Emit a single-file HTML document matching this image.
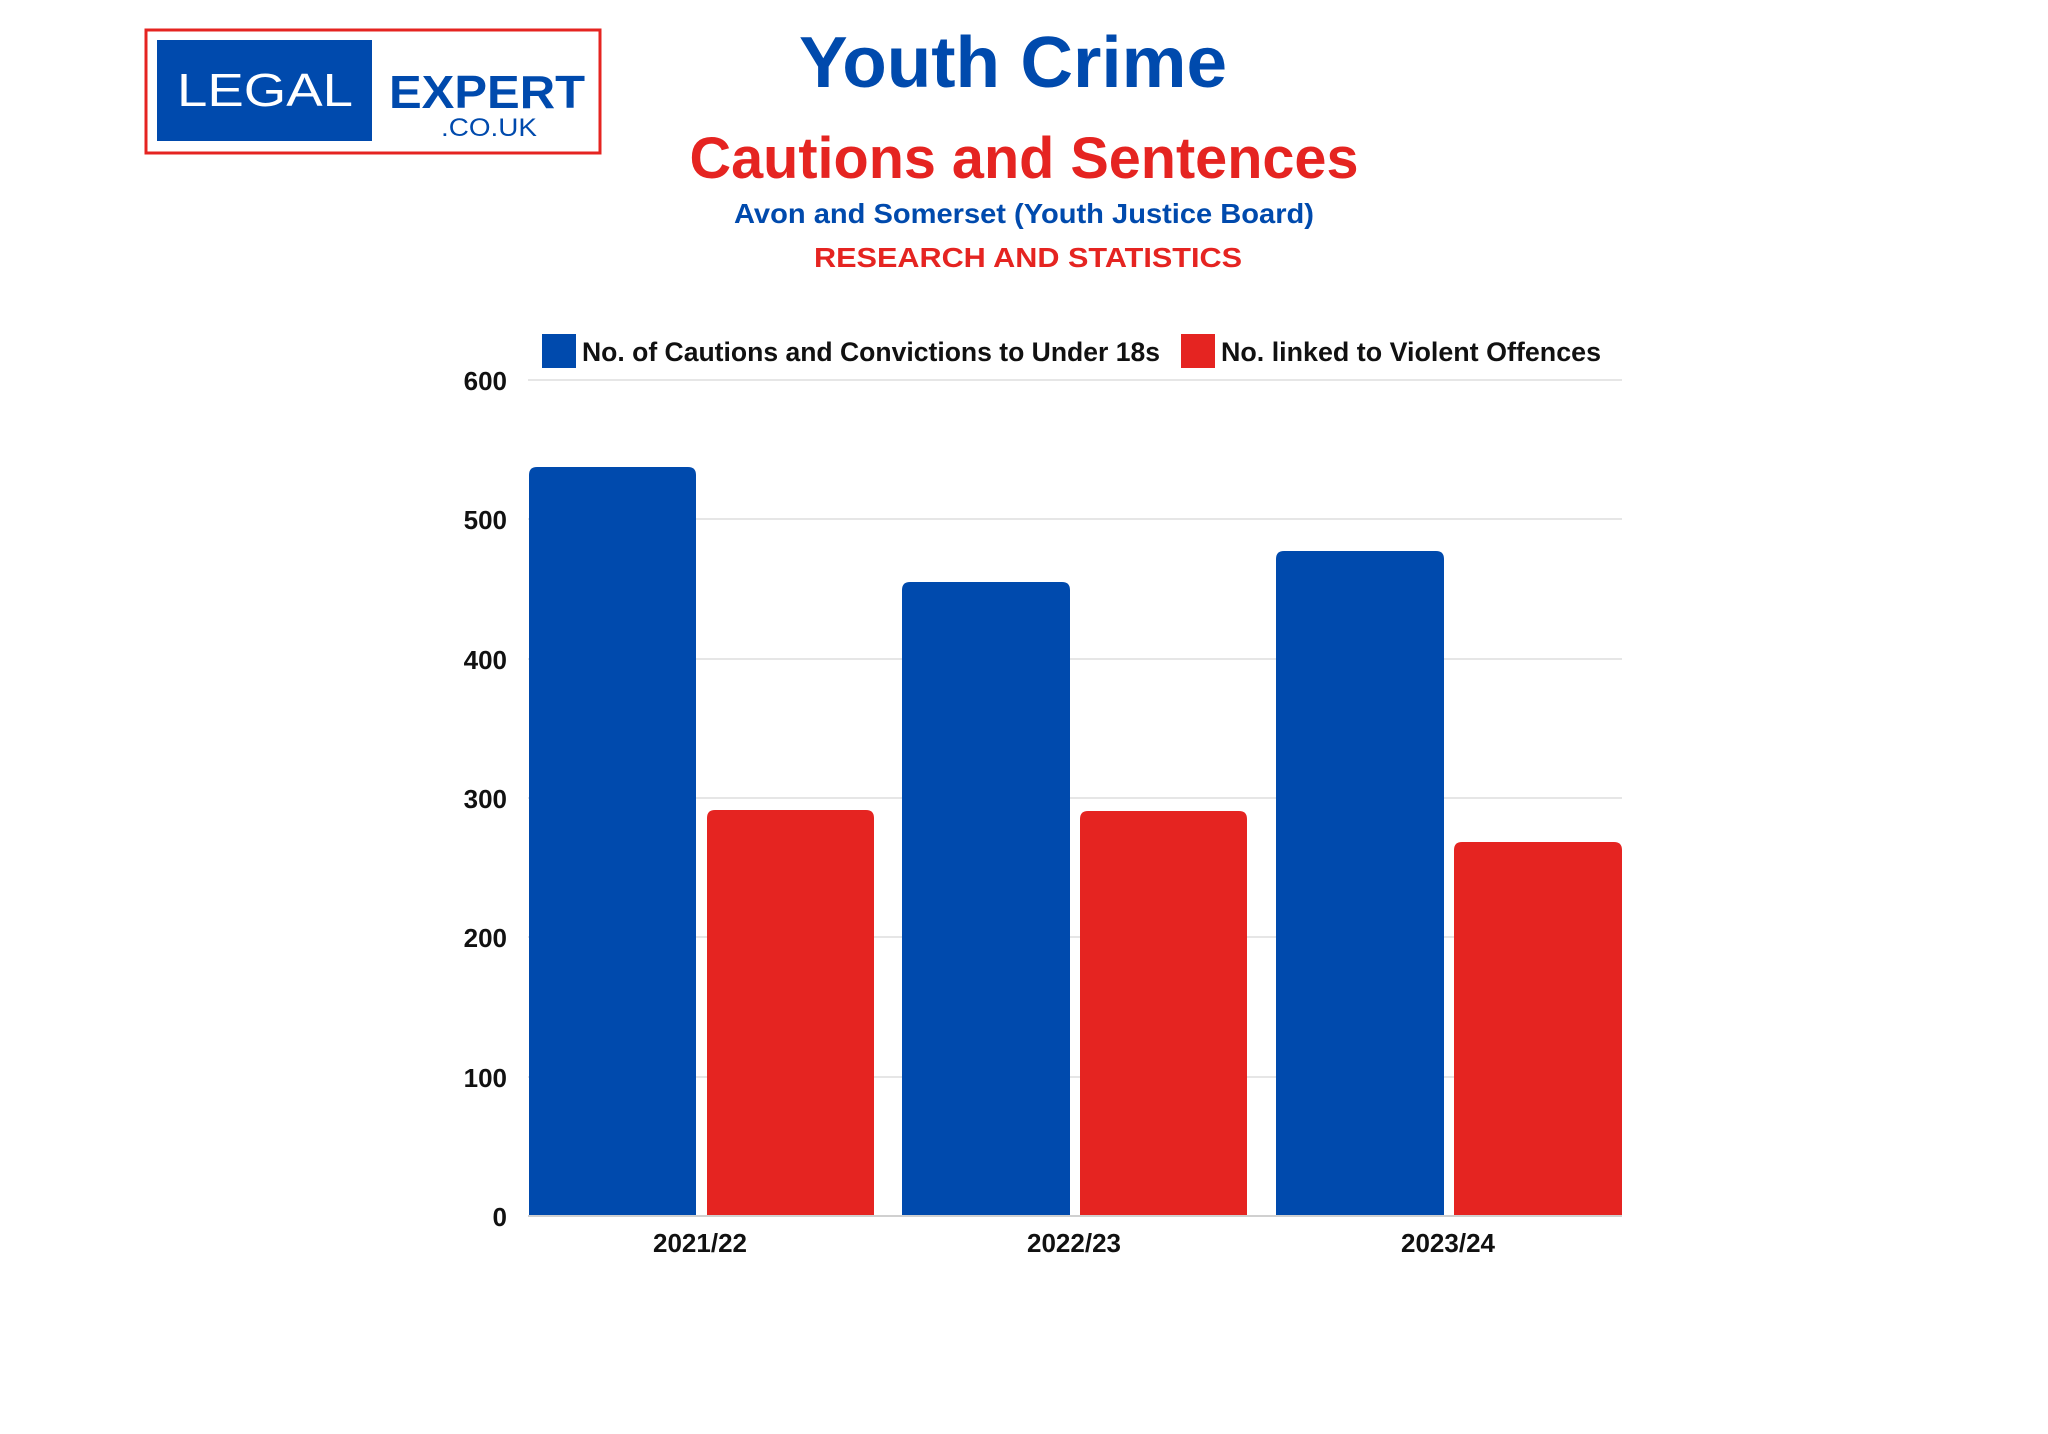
<!DOCTYPE html>
<html><head><meta charset="utf-8"><style>
html,body{margin:0;padding:0;background:#fff;}
svg{display:block;}
text{font-family:"Liberation Sans",Arial,sans-serif;font-weight:bold;}
</style></head><body>
<svg width="2048" height="1434" viewBox="0 0 2048 1434" xmlns="http://www.w3.org/2000/svg">
<rect width="2048" height="1434" fill="#fff"/>
<!-- logo -->
<rect x="146" y="30" width="454" height="123" fill="#fff" stroke="#e52421" stroke-width="3"/>
<rect x="157" y="40" width="215" height="101" fill="#004aad"/>
<text x="265" y="106" font-size="46" fill="#fff" font-weight="normal" style="font-weight:normal" text-anchor="middle" textLength="176" lengthAdjust="spacingAndGlyphs">LEGAL</text>
<text x="487" y="108" font-size="46" fill="#004aad" text-anchor="middle" textLength="196" lengthAdjust="spacingAndGlyphs">EXPERT</text>
<text x="489" y="136" font-size="25" fill="#004aad" style="font-weight:normal" text-anchor="middle" textLength="96" lengthAdjust="spacingAndGlyphs">.CO.UK</text>
<!-- titles -->
<text x="1013" y="87" font-size="72" fill="#004aad" text-anchor="middle" textLength="428" lengthAdjust="spacingAndGlyphs">Youth Crime</text>
<text x="1024" y="178" font-size="58" fill="#e52421" text-anchor="middle" textLength="669" lengthAdjust="spacingAndGlyphs">Cautions and Sentences</text>
<text x="1024" y="223" font-size="28" fill="#004aad" text-anchor="middle" textLength="580" lengthAdjust="spacingAndGlyphs">Avon and Somerset (Youth Justice Board)</text>
<text x="1028" y="267" font-size="28" fill="#e52421" text-anchor="middle" textLength="428" lengthAdjust="spacingAndGlyphs">RESEARCH AND STATISTICS</text>
<!-- legend -->
<rect x="542" y="334" width="34" height="34" fill="#004aad"/>
<text x="582" y="361" font-size="27" fill="#111" textLength="578" lengthAdjust="spacingAndGlyphs">No. of Cautions and Convictions to Under 18s</text>
<rect x="1181" y="334" width="34" height="34" fill="#e52421"/>
<text x="1221" y="361" font-size="27" fill="#111" textLength="380" lengthAdjust="spacingAndGlyphs">No. linked to Violent Offences</text>
<!-- grid -->
<g stroke="#e6e6e6" stroke-width="2">
<line x1="528" y1="380" x2="1622" y2="380"/>
<line x1="528" y1="519" x2="1622" y2="519"/>
<line x1="528" y1="659" x2="1622" y2="659"/>
<line x1="528" y1="798" x2="1622" y2="798"/>
<line x1="528" y1="937" x2="1622" y2="937"/>
<line x1="528" y1="1077" x2="1622" y2="1077"/>
</g>
<g font-size="26" fill="#111" text-anchor="end">
<text x="507" y="390">600</text>
<text x="507" y="529">500</text>
<text x="507" y="669">400</text>
<text x="507" y="808">300</text>
<text x="507" y="947">200</text>
<text x="507" y="1087">100</text>
<text x="507" y="1226">0</text>
</g>
<!-- bars -->
<g>
<path d="M529 1216 V475 Q529 467 537 467 H688 Q696 467 696 475 V1216 Z" fill="#004aad"/>
<path d="M707 1216 V818 Q707 810 715 810 H866 Q874 810 874 818 V1216 Z" fill="#e52421"/>
<path d="M902 1216 V590 Q902 582 910 582 H1062 Q1070 582 1070 590 V1216 Z" fill="#004aad"/>
<path d="M1080 1216 V819 Q1080 811 1088 811 H1239 Q1247 811 1247 819 V1216 Z" fill="#e52421"/>
<path d="M1276 1216 V559 Q1276 551 1284 551 H1436 Q1444 551 1444 559 V1216 Z" fill="#004aad"/>
<path d="M1454 1216 V850 Q1454 842 1462 842 H1614 Q1622 842 1622 850 V1216 Z" fill="#e52421"/>
</g>
<line x1="528" y1="1216" x2="1622" y2="1216" stroke="#d0d0d0" stroke-width="2"/>
<g font-size="26" fill="#111" text-anchor="middle">
<text x="700" y="1252">2021/22</text>
<text x="1074" y="1252">2022/23</text>
<text x="1448" y="1252">2023/24</text>
</g>
</svg>
</body></html>
